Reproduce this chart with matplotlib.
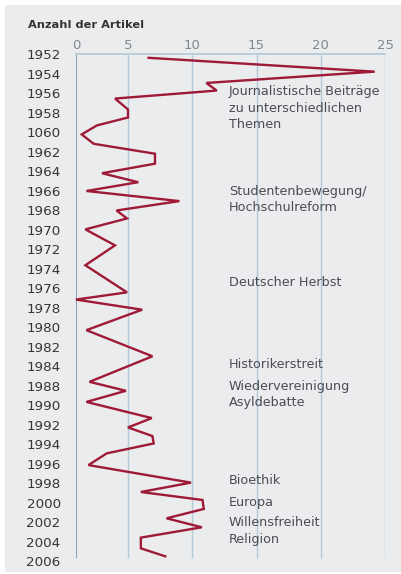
import numpy as np
import matplotlib
matplotlib.use("Agg")
import matplotlib.pyplot as plt
from matplotlib.patches import Rectangle

# ---- data ----
tick_labels = ["1952", "1954", "1956", "1958", "1060", "1962", "1964", "1966",
               "1968", "1970", "1972", "1974", "1976", "1978", "1980", "1982",
               "1984", "1988", "1990", "1992", "1994", "1996", "1998", "2000",
               "2002", "2004", "2006"]
# vertical position of each vertex in label-slot units (0 = first label)
slot = [0.18, 0.89, 1.47, 1.86, 2.27, 2.83, 3.24, 3.65, 4.11, 4.59,
        5.10, 5.61, 6.10, 6.56, 7.01, 7.53, 8.01, 8.42, 8.98, 9.80,
        10.82, 12.21, 12.58, 13.10, 14.15, 15.49, 16.80, 17.26, 17.83, 18.66,
        19.14, 19.58, 19.96, 20.47, 21.07, 21.97, 22.45, 22.86, 23.32, 23.80,
        24.26, 24.79, 25.34, 25.75]
articles = [6.6, 24.2, 11.1, 11.9, 3.75, 5.0, 5.0, 2.0, 0.55, 1.7,
            7.1, 7.1, 2.5, 5.8, 1.0, 9.0, 3.9, 4.9, 0.9, 3.75,
            0.9, 4.9, 0.0, 6.1, 1.0, 6.9, 1.3, 4.8, 1.0, 6.85,
            5.0, 6.9, 7.0, 2.95, 1.2, 9.9, 6.0, 10.8, 10.9, 8.0,
            10.75, 6.0, 6.0, 7.9]
x_ticks = [0, 5, 10, 15, 20, 25]
notes = [("Journalistische Beiträge", 92), ("zu unterschiedlichen", 108),
         ("Themen", 124), ("Studentenbewegung/", 191.7),
         ("Hochschulreform", 207.7), ("Deutscher Herbst", 282.3),
         ("Historikerstreit", 364.3), ("Wiedervereinigung", 386.7),
         ("Asyldebatte", 402.7), ("Bioethik", 480.7), ("Europa", 502.3),
         ("Willensfreiheit", 522.7), ("Religion", 540)]

W, H = 401, 574
fig = plt.figure(figsize=(W / 100, H / 100), dpi=100)
fig.patch.set_facecolor("white")
fig.patches.append(Rectangle((5 / W, 2 / H), (W - 5) / W, (H - 7) / H,
                             transform=fig.transFigure, facecolor="#ebecee",
                             edgecolor="none", zorder=-5))

ax = fig.add_axes([76 / W, 1 - 561.2 / H, 309 / W, (561.2 - 54.3) / H])
ax.set_facecolor("none")
ax.set_zorder(2)

k = 52 / 64.25
def fwd(x):
    x = np.asarray(x, dtype=float)
    return np.where(x <= 5, x * k, x - 5 + 5 * k)
def inv(y):
    y = np.asarray(y, dtype=float)
    return np.where(y <= 5 * k, y / k, y + 5 - 5 * k)
ax.set_xscale("function", functions=(fwd, inv))
ax.set_xlim(0, 25)
ax.set_ylim(26, 0.03)

grid_bottom = (558 - 53.7) / 19.52
ax.vlines(x_ticks[1:], 0.03, grid_bottom, colors="#b3c9d5", linewidth=1.0, zorder=1)
ax.vlines([0], 0.03, grid_bottom, colors="#7c9db2", linewidth=1.3, zorder=1)

ax.plot(articles, slot, color="#9e1a36", linewidth=1.7, zorder=3,
        solid_joinstyle="miter", clip_on=False)

for s in ["left", "right", "bottom"]:
    ax.spines[s].set_visible(False)
ax.spines["top"].set_color("#b3c9d5")
ax.spines["top"].set_linewidth(1.2)

ax.xaxis.tick_top()
ax.set_xticks(x_ticks)
ax.set_xticklabels([str(v) for v in x_ticks], fontsize=9.5, color="#7f8891")
ax.tick_params(axis="x", length=0, pad=2)
ax.set_yticks(range(len(tick_labels)))
ax.set_yticklabels(tick_labels, fontsize=9.7, color="#363636")
ax.tick_params(axis="y", length=0, pad=11)
ax.minorticks_off()

fig.text(28 / W, 1 - 25 / H, "Anzahl der Artikel", fontsize=8.2, fontweight="bold",
         color="#333333", ha="left", va="center")

for txt, ypx in notes:
    fig.text(229 / W, 1 - ypx / H, txt, fontsize=9.2, color="#4a4b55",
             ha="left", va="center")

fig.savefig("out.png", dpi=100)
